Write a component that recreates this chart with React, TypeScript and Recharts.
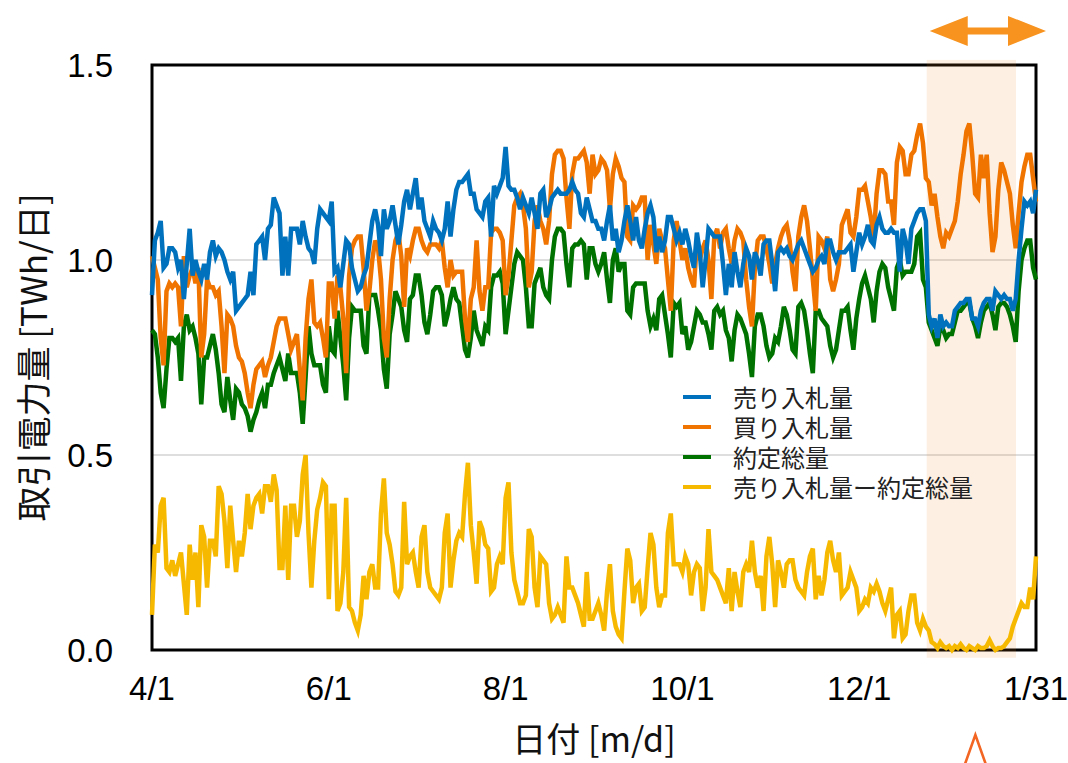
import React from "react";
import {
  LineChart,
  Line,
  XAxis,
  YAxis,
  CartesianGrid,
  ReferenceArea,
  Legend,
} from "recharts";

// days counted from 4/1 (0) to 1/31 (305)
const TICK_DAYS = [0, 61, 122, 183, 244, 305];
const TICK_LABELS = ["4/1", "6/1", "8/1", "10/1", "12/1", "1/31"];
const Y_TICKS = [0, 0.5, 1.0, 1.5];
const HIGHLIGHT_DAYS = [267.3, 298.1];

// 売り入札量 [TWh/日]
const SELL = [
  0.91, 1.05, 1.07, 1.10, 0.98, 0.99, 1.03, 1.03, 1.02, 0.98,
  1.00, 0.90, 0.99, 1.08, 0.96, 1.00, 0.97, 0.95, 0.99, 0.95,
  1.02, 1.05, 1.01, 1.03, 1.02, 1.00, 0.97, 0.95, 0.97, 0.87,
  0.88, 0.89, 0.90, 0.91, 0.97, 0.91, 1.04, 1.05, 1.06, 1.00,
  1.08, 1.09, 1.16, 1.14, 1.12, 0.96, 1.06, 0.96, 1.08, 1.08,
  1.08, 1.04, 1.10, 1.06, 1.03, 1.02, 0.99, 1.08, 1.13, 1.12,
  1.11, 1.10, 1.15, 0.97, 0.98, 0.93, 0.99, 1.05, 1.04, 0.98,
  0.95, 0.92, 0.93, 0.96, 0.98, 1.04, 1.10, 1.13, 1.09, 1.01,
  1.13, 1.08, 1.10, 1.14, 1.09, 1.04, 1.09, 1.15, 1.18, 1.13,
  1.17, 1.21, 1.13, 1.16, 1.10, 1.08, 1.06, 1.10, 1.08, 1.07,
  1.05, 1.08, 1.15, 1.06, 1.13, 1.18, 1.20, 1.20, 1.21, 1.22,
  1.17, 1.17, 1.13, 1.12, 1.11, 1.15, 1.16, 1.06, 1.19, 1.17,
  1.19, 1.21, 1.29, 1.19, 1.18, 1.18, 1.16, 1.13, 1.16, 1.14,
  1.12, 1.16, 1.12, 1.08, 1.17, 1.18, 1.11, 1.13, 1.16, 1.17,
  1.18, 1.17, 1.17, 1.17, 1.18, 1.20, 1.18, 1.17, 1.12, 1.11,
  1.16, 1.13, 1.10, 1.10, 1.08, 1.08, 1.05, 1.10, 1.14, 1.05,
  1.08, 1.02, 1.05, 1.10, 1.14, 1.10, 1.05, 1.11, 1.05, 1.03,
  1.08, 1.12, 1.14, 1.11, 1.02, 1.06, 1.02, 1.05, 1.11, 1.11,
  1.08, 1.05, 1.07, 1.04, 1.08, 1.05, 1.01, 0.98, 1.07, 1.02,
  0.93, 1.00, 1.08, 1.07, 1.06, 1.06, 1.06, 0.99, 0.91, 0.99,
  0.93, 1.02, 0.97, 0.93, 0.99, 1.03, 1.01, 0.95, 1.02, 1.00,
  0.96, 1.04, 1.05, 1.05, 0.99, 0.92, 1.02, 1.03, 1.02, 1.03,
  1.01, 1.00, 1.02, 1.04, 1.05, 1.03, 1.01, 0.99, 0.97, 0.98,
  1.00, 1.01, 0.99, 1.05, 1.05, 1.02, 1.00, 1.02, 1.02, 1.02,
  1.03, 1.04, 0.97, 1.02, 1.07, 1.04, 1.06, 1.09, 1.05, 1.04,
  1.09, 1.11, 1.08, 1.07, 1.07, 1.08, 1.07, 1.07, 0.97, 1.08,
  1.05, 0.99, 1.08, 1.10, 1.12, 1.13, 1.13, 1.10, 0.86, 0.83,
  0.85, 0.80, 0.86, 0.83, 0.84, 0.83, 0.83, 0.87, 0.88, 0.89,
  0.89, 0.90, 0.90, 0.85, 0.85, 0.83, 0.87, 0.89, 0.90, 0.90,
  0.87, 0.92, 0.91, 0.90, 0.91, 0.90, 0.90, 0.87, 0.90, 1.00,
  1.08, 1.15, 1.14, 1.15, 1.12, 1.18,
];

// 買り入札量
const BUY = [
  1.01, 0.98, 0.95, 0.80, 0.73, 0.92, 0.94, 0.93, 0.94, 0.93,
  0.83, 1.01, 0.93, 0.96, 0.98, 0.94, 0.98, 0.75, 0.81, 0.95,
  0.93, 0.93, 0.91, 0.92, 0.83, 0.71, 0.86, 0.85, 0.83, 0.78,
  0.75, 0.74, 0.71, 0.66, 0.62, 0.68, 0.72, 0.73, 0.74, 0.70,
  0.73, 0.75, 0.79, 0.83, 0.85, 0.85, 0.85, 0.81, 0.77, 0.79,
  0.81, 0.72, 0.64, 0.80, 0.90, 0.95, 0.84, 0.83, 0.84, 0.80,
  0.75, 0.94, 0.94, 0.85, 0.96, 0.93, 0.85, 0.71, 0.96, 1.03,
  1.05, 1.06, 1.06, 0.98, 0.87, 0.92, 1.00, 1.05, 1.03, 0.95,
  0.80, 0.75, 0.90, 1.00, 1.05, 1.07, 1.01, 0.88, 1.03, 1.01,
  1.05, 1.08, 1.08, 1.05, 1.03, 1.02, 1.04, 1.04, 1.04, 1.03,
  1.05, 0.98, 0.93, 1.00, 0.96, 0.97, 0.97, 0.97, 0.85, 0.79,
  0.90, 0.93, 1.05, 0.92, 0.87, 0.93, 0.93, 1.07, 1.08, 1.08,
  1.07, 1.05, 0.91, 0.96, 1.05, 1.14, 1.16, 1.17, 1.14, 1.08,
  0.93, 0.97, 1.10, 1.14, 1.10, 1.08, 1.04, 1.10, 1.22, 1.27,
  1.28, 1.28, 1.26, 1.16, 1.08, 1.22, 1.26, 1.26, 1.27, 1.28,
  1.25, 1.17, 1.27, 1.22, 1.23, 1.26, 1.25, 1.23, 1.13, 1.22,
  1.26, 1.24, 1.21, 1.20, 1.06, 1.05, 1.14, 1.13, 1.14, 1.16,
  1.16, 1.00, 1.09, 1.04, 0.99, 1.08, 1.05, 1.03, 0.95, 0.87,
  1.05, 1.10, 1.05, 1.00, 1.03, 0.98, 0.95, 0.93, 1.05, 1.00,
  1.03, 1.05, 1.00, 0.90, 1.06, 1.08, 1.03, 1.07, 1.08, 1.03,
  0.99, 1.05, 1.08, 1.07, 1.05, 0.95, 0.88, 0.83, 0.98, 1.05,
  1.06, 1.06, 1.03, 0.99, 0.94, 0.99, 1.03, 1.06, 1.08, 1.09,
  1.05, 0.97, 0.92, 1.06, 1.11, 1.14, 1.10, 1.03, 0.95, 0.87,
  1.06, 1.05, 1.03, 1.06, 0.95, 0.92, 0.95, 0.99, 1.09, 1.11,
  1.13, 1.07, 1.06, 1.11, 1.18, 1.18, 1.19, 1.15, 1.11, 1.06,
  1.17, 1.23, 1.23, 1.22, 1.15, 1.15, 1.09, 1.25, 1.29, 1.28,
  1.22, 1.22, 1.27, 1.28, 1.32, 1.35, 1.30, 1.21, 1.20, 1.14,
  1.17, 1.11, 1.06, 1.03, 1.07, 1.06, 1.08, 1.10, 1.15, 1.22,
  1.27, 1.33, 1.35, 1.27, 1.17, 1.16, 1.27, 1.21, 1.27, 1.12,
  1.02, 1.06, 1.18, 1.25, 1.23, 1.20, 1.17, 1.09, 1.03, 1.12,
  1.20, 1.24, 1.27, 1.27, 1.21, 1.15,
];

// 約定総量
const CONTRACT = [
  0.82, 0.81, 0.75, 0.66, 0.62, 0.72, 0.80, 0.80, 0.79, 0.80,
  0.69, 0.83, 0.86, 0.82, 0.83, 0.80, 0.76, 0.63, 0.75, 0.75,
  0.78, 0.81, 0.77, 0.71, 0.63, 0.61, 0.70, 0.64, 0.59, 0.67,
  0.66, 0.63, 0.62, 0.60, 0.56, 0.59, 0.61, 0.64, 0.66, 0.62,
  0.68, 0.68, 0.71, 0.73, 0.75, 0.72, 0.69, 0.76, 0.71, 0.71,
  0.71, 0.66, 0.58, 0.70, 0.83, 0.76, 0.73, 0.73, 0.73, 0.68,
  0.66, 0.83, 0.77, 0.76, 0.87, 0.80, 0.73, 0.64, 0.80, 0.88,
  0.87, 0.87, 0.87, 0.78, 0.76, 0.91, 0.91, 0.91, 0.87, 0.82,
  0.72, 0.67, 0.81, 0.86, 0.92, 0.90, 0.88, 0.82, 0.79, 0.90,
  0.91, 0.96, 0.96, 0.91, 0.84, 0.81, 0.86, 0.92, 0.93, 0.93,
  0.91, 0.83, 0.86, 0.90, 0.93, 0.90, 0.89, 0.83, 0.77, 0.75,
  0.80, 0.87, 0.82, 0.80, 0.78, 0.83, 0.82, 0.93, 0.96, 0.96,
  0.97, 0.94, 0.81, 0.87, 0.93, 0.99, 1.02, 1.01, 1.00, 0.93,
  0.83, 0.83, 0.94, 0.96, 0.98, 0.93, 0.91, 0.90, 1.00, 1.06,
  1.08, 1.08, 1.07, 0.99, 0.93, 1.03, 1.04, 1.04, 1.05, 1.04,
  0.95, 1.03, 1.03, 0.99, 0.97, 0.99, 1.02, 0.95, 0.89, 1.00,
  1.03, 0.97, 0.99, 0.99, 0.87, 0.86, 0.93, 0.94, 0.94, 0.94,
  0.94, 0.87, 0.83, 0.85, 0.82, 0.90, 0.91, 0.86, 0.81, 0.75,
  0.89, 0.88, 0.89, 0.81, 0.83, 0.77, 0.79, 0.83, 0.87, 0.86,
  0.84, 0.84, 0.81, 0.77, 0.87, 0.88, 0.86, 0.87, 0.82, 0.80,
  0.74, 0.82, 0.86, 0.85, 0.83, 0.81, 0.76, 0.70, 0.83, 0.86,
  0.86, 0.83, 0.78, 0.75, 0.76, 0.80, 0.79, 0.83, 0.88, 0.86,
  0.82, 0.77, 0.76, 0.88, 0.89, 0.87, 0.82, 0.76, 0.71, 0.87,
  0.87, 0.85, 0.84, 0.83, 0.78, 0.75, 0.77, 0.82, 0.87, 0.87,
  0.88, 0.82, 0.77, 0.85, 0.90, 0.94, 0.96, 0.93, 0.90, 0.84,
  0.92, 0.97, 0.99, 0.98, 0.93, 0.90, 0.87, 0.98, 1.00, 0.96,
  0.97, 0.97, 0.97, 0.99, 1.06, 1.07, 0.95, 0.93, 0.84, 0.82,
  0.80, 0.78, 0.83, 0.82, 0.80, 0.81, 0.81, 0.84, 0.87, 0.87,
  0.88, 0.89, 0.89, 0.85, 0.83, 0.80, 0.84, 0.87, 0.88, 0.89,
  0.86, 0.82, 0.88, 0.89, 0.89, 0.88, 0.86, 0.83, 0.79, 0.92,
  1.00, 1.03, 1.05, 1.05, 0.98, 0.95,
];

// 売り入札量ー約定総量
const DIFF = [
  0.09, 0.27, 0.25, 0.37, 0.39, 0.21, 0.20, 0.23, 0.19, 0.22,
  0.25, 0.17, 0.09, 0.27, 0.18, 0.25, 0.11, 0.32, 0.29, 0.16,
  0.28, 0.28, 0.24, 0.42, 0.40, 0.33, 0.21, 0.37, 0.28, 0.20,
  0.28, 0.24, 0.30, 0.40, 0.31, 0.37, 0.39, 0.40, 0.35, 0.42,
  0.42, 0.38, 0.45, 0.41, 0.21, 0.21, 0.37, 0.18, 0.37, 0.37,
  0.29, 0.33, 0.45, 0.50, 0.30, 0.16, 0.28, 0.36, 0.39, 0.43,
  0.42, 0.13, 0.37, 0.37, 0.10, 0.12, 0.20, 0.39, 0.11, 0.10,
  0.07, 0.05, 0.09, 0.19, 0.13, 0.20, 0.22, 0.16, 0.16, 0.35,
  0.44, 0.30, 0.27, 0.22, 0.15, 0.14, 0.16, 0.38, 0.22, 0.24,
  0.25, 0.20, 0.16, 0.29, 0.32, 0.20, 0.16, 0.15, 0.14, 0.13,
  0.16, 0.30, 0.35, 0.16, 0.23, 0.28, 0.30, 0.29, 0.40, 0.48,
  0.32, 0.25, 0.17, 0.33, 0.31, 0.27, 0.26, 0.15, 0.16, 0.22,
  0.24, 0.22, 0.39, 0.43, 0.25, 0.18, 0.15, 0.12, 0.12, 0.14,
  0.31, 0.29, 0.16, 0.11, 0.24, 0.23, 0.22, 0.12, 0.08, 0.09,
  0.11, 0.09, 0.07, 0.24, 0.16, 0.16, 0.14, 0.12, 0.09, 0.06,
  0.20, 0.08, 0.08, 0.10, 0.12, 0.09, 0.05, 0.15, 0.22, 0.10,
  0.06, 0.04, 0.03, 0.15, 0.26, 0.23, 0.12, 0.16, 0.17, 0.10,
  0.11, 0.21, 0.30, 0.27, 0.16, 0.11, 0.14, 0.14, 0.30, 0.35,
  0.22, 0.22, 0.22, 0.20, 0.24, 0.22, 0.14, 0.20, 0.22, 0.21,
  0.10, 0.16, 0.31, 0.20, 0.19, 0.18, 0.16, 0.14, 0.12, 0.21,
  0.10, 0.20, 0.15, 0.11, 0.20, 0.22, 0.20, 0.28, 0.20, 0.16,
  0.19, 0.10, 0.24, 0.29, 0.22, 0.11, 0.23, 0.20, 0.16, 0.22,
  0.23, 0.23, 0.18, 0.16, 0.15, 0.14, 0.20, 0.24, 0.26, 0.13,
  0.19, 0.14, 0.18, 0.25, 0.28, 0.23, 0.20, 0.25, 0.14, 0.15,
  0.16, 0.20, 0.18, 0.16, 0.10, 0.11, 0.13, 0.12, 0.16, 0.15,
  0.17, 0.15, 0.12, 0.10, 0.13, 0.16, 0.03, 0.09, 0.10, 0.03,
  0.04, 0.10, 0.14, 0.14, 0.07, 0.05, 0.08, 0.06, 0.05, 0.02,
  0.015, 0.005, 0.02, 0.01, 0.005, 0.01, 0.0, 0.01, 0.005, 0.015,
  0.005, 0.0, 0.01, 0.005, 0.0, 0.01, 0.005, 0.005, 0.01, 0.025,
  0.01, 0.0, 0.005, 0.005, 0.01, 0.02, 0.03, 0.06, 0.08, 0.10,
  0.12, 0.11, 0.11, 0.16, 0.13, 0.24,
];

const SERIES = [
  { key: "sell", name: "売り入札量", color: "#0072bd" },
  { key: "buy", name: "買り入札量", color: "#f07400" },
  { key: "contract", name: "約定総量", color: "#007200" },
  { key: "diff", name: "売り入札量ー約定総量", color: "#f7b900" },
];
// drawn bottom to top
const DRAW_ORDER = ["contract", "buy", "sell", "diff"];

const rows = SELL.map((v, i) => ({
  day: i,
  sell: v,
  buy: BUY[i],
  contract: CONTRACT[i],
  diff: DIFF[i],
}));

const LATIN = "'Liberation Sans', Arial, 'Noto Sans CJK JP', sans-serif";
const JP = "'Noto Sans CJK JP', sans-serif";

const YTitle = (props: any) => {
  const vb = props.viewBox;
  const cx = vb.x + 31;
  const cy = vb.y + vb.height / 2;
  return (
    <text
      x={cx}
      y={cy}
      transform={`rotate(-90 ${cx} ${cy})`}
      textAnchor="middle"
      dominantBaseline="central"
      style={{ fontFamily: JP, fontSize: 35, fill: "#111" }}
    >
      取引電力量 [TWh/日]
    </text>
  );
};

const XTitle = (props: any) => {
  const vb = props.viewBox;
  return (
    <text
      x={vb.x + vb.width / 2}
      y={vb.y + 102}
      textAnchor="middle"
      style={{ fontFamily: JP, fontSize: 34, fill: "#111" }}
    >
      日付 [m/d]
    </text>
  );
};

// shaded period plus the arrow above and the mark below it
const Highlight = (props: any) => {
  const { x, y, width, height } = props;
  const lt = x + 3;
  const rt = x + width + 30;
  const cy = y - 29;
  const head = 38;
  const hh = 15;
  const sh = 3.5;
  const arrow = [
    [lt, cy], [lt + head, cy - hh], [lt + head, cy - sh], [rt - head, cy - sh],
    [rt - head, cy - hh], [rt, cy], [rt - head, cy + hh], [rt - head, cy + sh],
    [lt + head, cy + sh], [lt + head, cy + hh],
  ].map((p) => p.join(",")).join(" ");
  const ax = x + width / 2 + 4;
  const ay = y + height + 77;
  return (
    <g>
      <rect x={x} y={y} width={width} height={height} fill="#f08a24" fillOpacity={0.13} />
      <polygon points={arrow} fill="#f7931e" />
      <polyline
        points={`${ax - 11},${ay + 31} ${ax},${ay} ${ax + 11},${ay + 31}`}
        fill="none"
        stroke="#f26522"
        strokeWidth={2.6}
      />
    </g>
  );
};

const LegendBox = () => (
  <div style={{ fontFamily: JP, fontSize: 24, color: "#222" }}>
    {SERIES.map((s) => (
      <div key={s.key} style={{ display: "flex", alignItems: "center", height: 30 }}>
        <span
          style={{ display: "inline-block", width: 28, height: 4, background: s.color, marginRight: 22 }}
        />
        <span style={{ lineHeight: "30px", whiteSpace: "nowrap" }}>{s.name}</span>
      </div>
    ))}
  </div>
);

export default function App() {
  return (
    <div style={{ position: "absolute", left: 0, top: 0, width: 1068, height: 763, background: "#fff" }}>
      <LineChart
        width={1068}
        height={763}
        data={rows}
        margin={{ top: 65, right: 32, bottom: 0, left: 0 }}
      >
        <CartesianGrid vertical={false} stroke="#bdbdbd" strokeWidth={1.2} />
        <XAxis
          dataKey="day"
          type="number"
          domain={[0, 305]}
          ticks={TICK_DAYS}
          interval={0}
          tickFormatter={(v: number) => TICK_LABELS[TICK_DAYS.indexOf(v)]}
          axisLine={false}
          tickLine={false}
          tickMargin={21}
          height={113}
          tick={{ fontSize: 33, fill: "#000", fontFamily: LATIN }}
          label={{ content: XTitle }}
        />
        <YAxis
          type="number"
          domain={[0, 1.5]}
          ticks={Y_TICKS}
          interval={0}
          tickFormatter={(v: number) => v.toFixed(1)}
          axisLine={false}
          tickLine={false}
          tickMargin={33}
          width={152}
          tick={{ fontSize: 33, fill: "#000", fontFamily: LATIN }}
          label={{ content: YTitle }}
        />
        <ReferenceArea
          x1={0}
          x2={305}
          y1={0}
          y2={1.5}
          fill="none"
          stroke="#000"
          strokeWidth={3}
          fillOpacity={0}
        />
        {DRAW_ORDER.map((k) => {
          const s = SERIES.find((d) => d.key === k)!;
          return (
            <Line
              key={k}
              type="linear"
              dataKey={k}
              name={s.name}
              stroke={s.color}
              strokeWidth={4.5}
              dot={false}
              activeDot={false}
              isAnimationActive={false}
            />
          );
        })}
        <ReferenceArea
          x1={HIGHLIGHT_DAYS[0]}
          x2={HIGHLIGHT_DAYS[1]}
          y1={-0.02}
          y2={1.513}
          ifOverflow="visible"
          shape={Highlight}
        />
        <Legend
          layout="vertical"
          align="center"
          verticalAlign="middle"
          content={LegendBox}
          wrapperStyle={{ left: 683, top: 382, width: 360 }}
        />
      </LineChart>
    </div>
  );
}
